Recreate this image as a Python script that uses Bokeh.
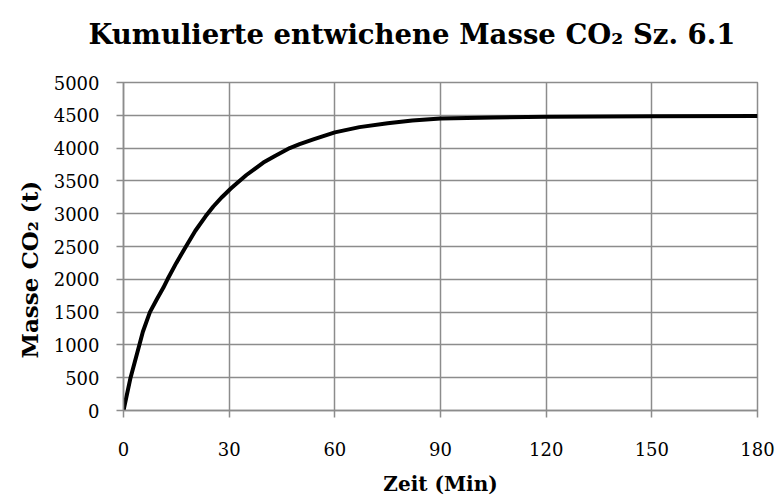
from bokeh.plotting import figure
from bokeh.models import Range1d, FixedTicker, Title
from bokeh.embed import file_html
from bokeh.resources import INLINE

# Data
zeit_min = [0, 2, 4.5, 5.5, 7.5, 9.5, 11.3, 12.5, 15, 17.6, 20.4, 23.3, 25.5,
            28, 30.4, 32.1, 34.9, 39.7, 43, 47.2, 50, 53.9, 60, 67, 75, 82,
            90, 105, 120, 150, 180]
masse_co2 = [0, 500, 1000, 1200, 1500, 1700, 1870, 2000, 2250, 2490, 2740,
             2960, 3110, 3255, 3380, 3460, 3590, 3780, 3880, 4000, 4060, 4133,
             4240, 4320, 4380, 4420, 4450, 4468, 4477, 4485, 4488]
x_ticks = [0, 30, 60, 90, 120, 150, 180]
y_ticks = [0, 500, 1000, 1500, 2000, 2500, 3000, 3500, 4000, 4500, 5000]

title_text = "Kumulierte entwichene  Masse  CO\u2082 Sz. 6.1"
x_label = "Zeit (Min)"
y_label = "Masse CO\u2082 (t)"

FONT = "DejaVu Serif"
GRID = "#8c8c8c"

p = figure(width=775, height=498, output_backend="svg", toolbar_location=None,
           x_range=Range1d(0, 180), y_range=Range1d(0, 5000),
           min_border_left=123, min_border_right=18, min_border_top=82,
           min_border_bottom=88)

p.line(zeit_min, masse_co2, line_color="black", line_width=4, line_join="round")

for ax, ticks in ((p.xaxis, x_ticks), (p.yaxis, y_ticks)):
    ax.ticker = FixedTicker(ticks=ticks)
    ax.axis_line_color = GRID
    ax.axis_line_width = 1.5
    ax.major_tick_line_color = GRID
    ax.major_tick_line_width = 1.5
    ax.major_tick_in = 0
    ax.major_tick_out = 7
    ax.minor_tick_line_color = None
    ax.major_label_text_font = FONT
    ax.major_label_text_font_size = "18px"
    ax.major_label_text_color = "black"
    ax.axis_label_text_font = FONT
    ax.axis_label_text_font_style = "bold"
    ax.axis_label_text_font_size = "20px"
    ax.axis_label_text_color = "black"

p.xaxis.axis_label = x_label
p.xaxis.major_label_standoff = 24
p.yaxis.major_label_standoff = 17
p.xaxis.axis_label_standoff = 13

p.xgrid.ticker = FixedTicker(ticks=x_ticks)
p.ygrid.ticker = FixedTicker(ticks=y_ticks)
for g in (p.xgrid, p.ygrid):
    g.grid_line_color = GRID
    g.grid_line_width = 1.5

p.outline_line_color = GRID
p.outline_line_width = 1.5

# spacer panel between the frame and the title
p.add_layout(Title(text=" ", text_font_size="1px", standoff=15), "above")
p.add_layout(Title(text=title_text, text_font=FONT, text_font_style="bold",
                   text_font_size="27.5px", align="left", offset=-35,
                   standoff=30, text_color="black"), "above")
p.add_layout(Title(text=y_label, text_font=FONT, text_font_style="bold",
                   text_font_size="23px", align="left", offset=52,
                   standoff=15, text_color="black"), "left")

open("out.html", "w").write(file_html(p, INLINE))
